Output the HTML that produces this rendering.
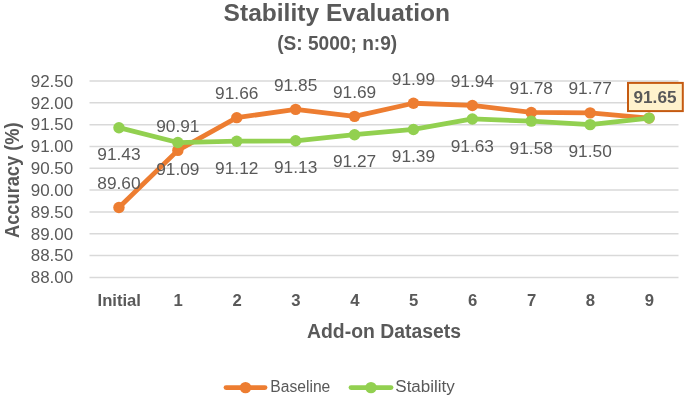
<!DOCTYPE html>
<html><head><meta charset="utf-8"><style>
html,body{margin:0;padding:0;background:#fff;}
svg{display:block;}
svg{will-change:transform;}
text{font-family:"Liberation Sans",sans-serif;fill:#595959;}
</style></head><body>
<svg width="685" height="398" viewBox="0 0 685 398">
<rect width="685" height="398" fill="#fff"/>
<line x1="89.5" y1="81.00" x2="678.5" y2="81.00" stroke="#D9D9D9" stroke-width="1.5"/>
<line x1="89.5" y1="102.82" x2="678.5" y2="102.82" stroke="#D9D9D9" stroke-width="1.5"/>
<line x1="89.5" y1="124.64" x2="678.5" y2="124.64" stroke="#D9D9D9" stroke-width="1.5"/>
<line x1="89.5" y1="146.46" x2="678.5" y2="146.46" stroke="#D9D9D9" stroke-width="1.5"/>
<line x1="89.5" y1="168.28" x2="678.5" y2="168.28" stroke="#D9D9D9" stroke-width="1.5"/>
<line x1="89.5" y1="190.10" x2="678.5" y2="190.10" stroke="#D9D9D9" stroke-width="1.5"/>
<line x1="89.5" y1="211.92" x2="678.5" y2="211.92" stroke="#D9D9D9" stroke-width="1.5"/>
<line x1="89.5" y1="233.74" x2="678.5" y2="233.74" stroke="#D9D9D9" stroke-width="1.5"/>
<line x1="89.5" y1="255.56" x2="678.5" y2="255.56" stroke="#D9D9D9" stroke-width="1.5"/>
<line x1="89.5" y1="277.38" x2="678.5" y2="277.38" stroke="#D9D9D9" stroke-width="1.5"/>
<polyline points="118.95,207.56 177.85,150.39 236.75,117.66 295.65,109.37 354.55,116.35 413.45,103.26 472.35,105.44 531.25,112.42 590.15,112.86 649.05,118.09" fill="none" stroke="#ED7D31" stroke-width="4.8" stroke-linejoin="round" stroke-linecap="round"/><circle cx="118.95" cy="207.56" r="5.7" fill="#ED7D31"/><circle cx="177.85" cy="150.39" r="5.7" fill="#ED7D31"/><circle cx="236.75" cy="117.66" r="5.7" fill="#ED7D31"/><circle cx="295.65" cy="109.37" r="5.7" fill="#ED7D31"/><circle cx="354.55" cy="116.35" r="5.7" fill="#ED7D31"/><circle cx="413.45" cy="103.26" r="5.7" fill="#ED7D31"/><circle cx="472.35" cy="105.44" r="5.7" fill="#ED7D31"/><circle cx="531.25" cy="112.42" r="5.7" fill="#ED7D31"/><circle cx="590.15" cy="112.86" r="5.7" fill="#ED7D31"/><circle cx="649.05" cy="118.09" r="5.7" fill="#ED7D31"/>
<polyline points="118.95,127.69 177.85,142.53 236.75,141.22 295.65,140.79 354.55,134.68 413.45,129.44 472.35,118.97 531.25,121.15 590.15,124.64 649.05,118.09" fill="none" stroke="#92D050" stroke-width="4.8" stroke-linejoin="round" stroke-linecap="round"/><circle cx="118.95" cy="127.69" r="5.7" fill="#92D050"/><circle cx="177.85" cy="142.53" r="5.7" fill="#92D050"/><circle cx="236.75" cy="141.22" r="5.7" fill="#92D050"/><circle cx="295.65" cy="140.79" r="5.7" fill="#92D050"/><circle cx="354.55" cy="134.68" r="5.7" fill="#92D050"/><circle cx="413.45" cy="129.44" r="5.7" fill="#92D050"/><circle cx="472.35" cy="118.97" r="5.7" fill="#92D050"/><circle cx="531.25" cy="121.15" r="5.7" fill="#92D050"/><circle cx="590.15" cy="124.64" r="5.7" fill="#92D050"/><circle cx="649.05" cy="118.09" r="5.7" fill="#92D050"/>
<text x="73.20" y="86.80" font-size="16.20" text-anchor="end" textLength="42.50" lengthAdjust="spacingAndGlyphs">92.50</text>
<text x="73.20" y="108.62" font-size="16.20" text-anchor="end" textLength="42.50" lengthAdjust="spacingAndGlyphs">92.00</text>
<text x="73.20" y="130.44" font-size="16.20" text-anchor="end" textLength="42.50" lengthAdjust="spacingAndGlyphs">91.50</text>
<text x="73.20" y="152.26" font-size="16.20" text-anchor="end" textLength="42.50" lengthAdjust="spacingAndGlyphs">91.00</text>
<text x="73.20" y="174.08" font-size="16.20" text-anchor="end" textLength="42.50" lengthAdjust="spacingAndGlyphs">90.50</text>
<text x="73.20" y="195.90" font-size="16.20" text-anchor="end" textLength="42.50" lengthAdjust="spacingAndGlyphs">90.00</text>
<text x="73.20" y="217.72" font-size="16.20" text-anchor="end" textLength="42.50" lengthAdjust="spacingAndGlyphs">89.50</text>
<text x="73.20" y="239.54" font-size="16.20" text-anchor="end" textLength="42.50" lengthAdjust="spacingAndGlyphs">89.00</text>
<text x="73.20" y="261.36" font-size="16.20" text-anchor="end" textLength="42.50" lengthAdjust="spacingAndGlyphs">88.50</text>
<text x="73.20" y="283.18" font-size="16.20" text-anchor="end" textLength="42.50" lengthAdjust="spacingAndGlyphs">88.00</text>
<text x="118.95" y="188.86" font-size="16.90" text-anchor="middle" textLength="43.30" lengthAdjust="spacingAndGlyphs">89.60</text>
<text x="177.85" y="131.69" font-size="16.90" text-anchor="middle" textLength="43.30" lengthAdjust="spacingAndGlyphs">90.91</text>
<text x="236.75" y="98.96" font-size="16.90" text-anchor="middle" textLength="43.30" lengthAdjust="spacingAndGlyphs">91.66</text>
<text x="295.65" y="90.67" font-size="16.90" text-anchor="middle" textLength="43.30" lengthAdjust="spacingAndGlyphs">91.85</text>
<text x="354.55" y="97.65" font-size="16.90" text-anchor="middle" textLength="43.30" lengthAdjust="spacingAndGlyphs">91.69</text>
<text x="413.45" y="84.56" font-size="16.90" text-anchor="middle" textLength="43.30" lengthAdjust="spacingAndGlyphs">91.99</text>
<text x="472.35" y="86.74" font-size="16.90" text-anchor="middle" textLength="43.30" lengthAdjust="spacingAndGlyphs">91.94</text>
<text x="531.25" y="93.72" font-size="16.90" text-anchor="middle" textLength="43.30" lengthAdjust="spacingAndGlyphs">91.78</text>
<text x="590.15" y="94.16" font-size="16.90" text-anchor="middle" textLength="43.30" lengthAdjust="spacingAndGlyphs">91.77</text>
<text x="118.95" y="160.39" font-size="16.90" text-anchor="middle" textLength="43.30" lengthAdjust="spacingAndGlyphs">91.43</text>
<text x="177.85" y="175.23" font-size="16.90" text-anchor="middle" textLength="43.30" lengthAdjust="spacingAndGlyphs">91.09</text>
<text x="236.75" y="173.92" font-size="16.90" text-anchor="middle" textLength="43.30" lengthAdjust="spacingAndGlyphs">91.12</text>
<text x="295.65" y="173.49" font-size="16.90" text-anchor="middle" textLength="43.30" lengthAdjust="spacingAndGlyphs">91.13</text>
<text x="354.55" y="167.38" font-size="16.90" text-anchor="middle" textLength="43.30" lengthAdjust="spacingAndGlyphs">91.27</text>
<text x="413.45" y="162.14" font-size="16.90" text-anchor="middle" textLength="43.30" lengthAdjust="spacingAndGlyphs">91.39</text>
<text x="472.35" y="151.67" font-size="16.90" text-anchor="middle" textLength="43.30" lengthAdjust="spacingAndGlyphs">91.63</text>
<text x="531.25" y="153.85" font-size="16.90" text-anchor="middle" textLength="43.30" lengthAdjust="spacingAndGlyphs">91.58</text>
<text x="590.15" y="157.34" font-size="16.90" text-anchor="middle" textLength="43.30" lengthAdjust="spacingAndGlyphs">91.50</text>
<rect x="628" y="82.9" width="54.8" height="28.2" fill="#FFF2CC" stroke="#C55A11" stroke-width="2"/>
<text x="655.00" y="103.00" font-size="16.50" text-anchor="middle" font-weight="bold" fill="#404040" textLength="43.00" lengthAdjust="spacingAndGlyphs">91.65</text>
<text x="119.25" y="305.70" font-size="16.70" text-anchor="middle" font-weight="bold" textLength="43.50" lengthAdjust="spacingAndGlyphs">Initial</text>
<text x="178.15" y="305.70" font-size="16.70" text-anchor="middle" font-weight="bold">1</text>
<text x="237.05" y="305.70" font-size="16.70" text-anchor="middle" font-weight="bold">2</text>
<text x="295.95" y="305.70" font-size="16.70" text-anchor="middle" font-weight="bold">3</text>
<text x="354.85" y="305.70" font-size="16.70" text-anchor="middle" font-weight="bold">4</text>
<text x="413.75" y="305.70" font-size="16.70" text-anchor="middle" font-weight="bold">5</text>
<text x="472.65" y="305.70" font-size="16.70" text-anchor="middle" font-weight="bold">6</text>
<text x="531.55" y="305.70" font-size="16.70" text-anchor="middle" font-weight="bold">7</text>
<text x="590.45" y="305.70" font-size="16.70" text-anchor="middle" font-weight="bold">8</text>
<text x="649.35" y="305.70" font-size="16.70" text-anchor="middle" font-weight="bold">9</text>
<text x="336.80" y="21.40" font-size="23.70" text-anchor="middle" font-weight="bold" textLength="226.40" lengthAdjust="spacingAndGlyphs">Stability Evaluation</text>
<text x="337.20" y="49.70" font-size="20.80" text-anchor="middle" font-weight="bold" textLength="120.00" lengthAdjust="spacingAndGlyphs">(S: 5000; n:9)</text>
<text x="384.00" y="337.90" font-size="20.00" text-anchor="middle" font-weight="bold" textLength="154.00" lengthAdjust="spacingAndGlyphs">Add-on Datasets</text>
<g transform="translate(18.7,180.2) rotate(-90)"><text x="0.00" y="0.00" font-size="20.00" text-anchor="middle" font-weight="bold" textLength="115.50" lengthAdjust="spacingAndGlyphs">Accuracy (%)</text></g>
<line x1="226" y1="387.6" x2="265" y2="387.6" stroke="#ED7D31" stroke-width="4.8" stroke-linecap="round"/>
<circle cx="245.5" cy="387.6" r="5.7" fill="#ED7D31"/>
<text x="270.30" y="392.40" font-size="15.80" text-anchor="start" textLength="60.00" lengthAdjust="spacingAndGlyphs">Baseline</text>
<line x1="351" y1="387.6" x2="391" y2="387.6" stroke="#92D050" stroke-width="4.8" stroke-linecap="round"/>
<circle cx="371" cy="387.6" r="5.7" fill="#92D050"/>
<text x="395.30" y="392.40" font-size="15.80" text-anchor="start" textLength="59.50" lengthAdjust="spacingAndGlyphs">Stability</text>
</svg>
</body></html>
